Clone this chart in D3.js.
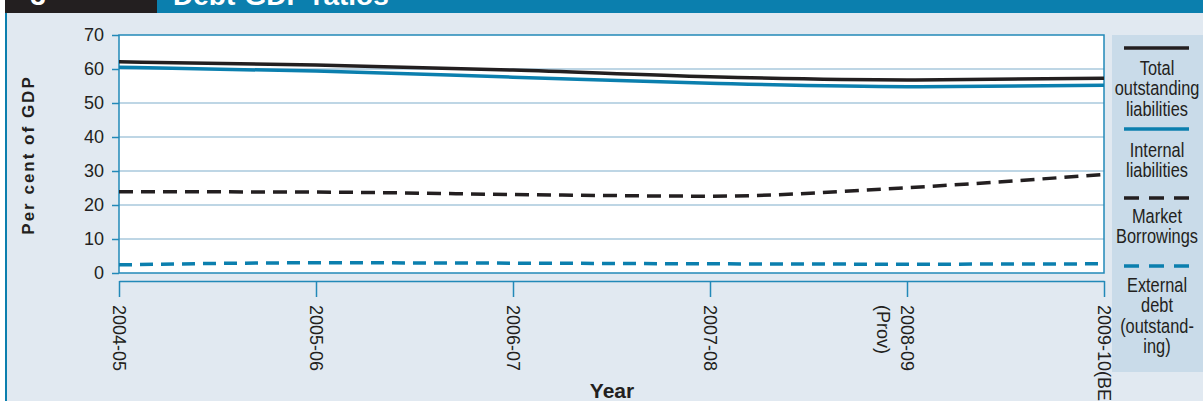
<!DOCTYPE html>
<html>
<head>
<meta charset="utf-8">
<script src="https://cdn.jsdelivr.net/npm/d3@7"></script>
<style>
  html, body { margin: 0; padding: 0; background: #ffffff; }
  svg { display: block; }
  .sans { font-family: "Liberation Sans", Arial, sans-serif; }
</style>
</head>
<body>
<svg id="chart" width="1203" height="401"></svg>
<script>
// Fiscal years on the horizontal axis
const years = ["2004-05", "2005-06", "2006-07", "2007-08", "2008-09", "2009-10(BE)"];
const yearNotes = ["", "", "", "", "(Prov)", ""];

// Ratios, per cent of GDP
const totalLiabilities = [62.1, 61.2, 59.7, 57.7, 56.8, 57.3];
const internalLiabilities = [60.5, 59.4, 57.6, 55.8, 54.8, 55.2];
const marketBorrowings = [23.9, 23.8, 23.1, 22.6, 25.1, 29.0];
const externalDebt = [2.4, 3.0, 2.9, 2.7, 2.6, 2.7];

const yTicks = [0, 10, 20, 30, 40, 50, 60, 70];

const legendLabels = [
  ["Total", "outstanding", "liabilities"],
  ["Internal", "liabilities"],
  ["Market", "Borrowings"],
  ["External", "debt", "(outstand-", "ing)"]
];

const BLUE = "#0b7fae";
const INK = "#231f20";
const PANEL = "#e1e9f1";
const GRID = "#a9c9dd";
const FRAME = "#2289b8";

const svg = d3.select("#chart");

// page panel and header band
svg.append("rect").attr("x", 7).attr("y", 0).attr("width", 1196).attr("height", 401).attr("fill", PANEL);
svg.append("rect").attr("x", 5).attr("y", 0).attr("width", 2).attr("height", 401).attr("fill", BLUE);
svg.append("rect").attr("x", 5).attr("y", 0).attr("width", 152).attr("height", 13).attr("fill", INK);
svg.append("rect").attr("x", 157).attr("y", 0).attr("width", 1046).attr("height", 13).attr("fill", BLUE);
svg.append("text").attr("class", "sans").attr("x", 38).attr("y", 5)
  .attr("text-anchor", "middle").attr("font-weight", "bold").attr("font-size", 28)
  .attr("fill", "#ffffff").text("3");
svg.append("text").attr("class", "sans").attr("x", 173).attr("y", 5)
  .attr("font-weight", "bold").attr("font-size", 28)
  .attr("fill", "#ffffff").text("Debt-GDP ratios");

// plot geometry
const plotLeft = 119, plotRight = 1104, plotTop = 35, plotBottom = 273;

const x = d3.scalePoint().domain(years).range([plotLeft, plotRight]);
const y = d3.scaleLinear().domain([0, 70]).range([plotBottom, plotTop]);

svg.append("rect").attr("x", plotLeft).attr("y", plotTop)
  .attr("width", plotRight - plotLeft).attr("height", plotBottom - plotTop).attr("fill", "#ffffff");

// horizontal grid
svg.append("g").selectAll("line").data(yTicks.filter(v => v > 0 && v < 70)).join("line")
  .attr("x1", plotLeft).attr("x2", plotRight)
  .attr("y1", d => y(d)).attr("y2", d => y(d))
  .attr("stroke", GRID).attr("stroke-width", 1.5);

// plot frame
svg.append("rect").attr("x", plotLeft).attr("y", plotTop)
  .attr("width", plotRight - plotLeft).attr("height", plotBottom - plotTop)
  .attr("fill", "none").attr("stroke", FRAME).attr("stroke-width", 1.5);

// y axis
const yAxis = d3.axisLeft(y).tickValues(yTicks).tickSizeInner(7).tickSizeOuter(0).tickPadding(8);
const gy = svg.append("g").attr("transform", `translate(${plotLeft},0)`).call(yAxis);
gy.select(".domain").remove();
gy.selectAll(".tick line").attr("stroke", FRAME).attr("stroke-width", 1.5);
gy.selectAll(".tick text").attr("class", "sans").attr("font-size", 18).attr("fill", INK);

// x axis, set a little below the plot
const xAxisY = 281;
const xAxis = d3.axisBottom(x).tickSizeInner(16).tickSizeOuter(0).tickFormat("");
const gx = svg.append("g").attr("transform", `translate(0,${xAxisY})`).call(xAxis);
gx.select(".domain").attr("stroke", FRAME).attr("stroke-width", 1.5);
gx.selectAll(".tick line").attr("stroke", FRAME).attr("stroke-width", 1.5);

const xLabels = svg.append("g");
years.forEach((yr, i) => {
  const t = xLabels.append("text").attr("class", "sans")
    .attr("font-size", 18).attr("fill", INK)
    .attr("transform", `translate(${x(yr)},305) rotate(90)`);
  t.append("tspan").attr("x", 0).attr("dy", "0.35em").text(yr);
  if (yearNotes[i]) {
    t.append("tspan").attr("x", 0).attr("dy", "1.3em").text(yearNotes[i]);
  }
});

// axis titles
svg.append("text").attr("class", "sans").attr("font-weight", "bold").attr("font-size", 21)
  .attr("text-anchor", "middle").attr("x", 612).attr("y", 398).attr("fill", INK).text("Year");
svg.append("text").attr("class", "sans").attr("font-weight", "bold").attr("font-size", 17)
  .attr("letter-spacing", 2)
  .attr("text-anchor", "middle").attr("fill", INK)
  .attr("transform", "translate(34,155) rotate(-90)").text("Per cent of GDP");

// series
const series = [
  { values: totalLiabilities, color: INK, dash: null },
  { values: internalLiabilities, color: BLUE, dash: null },
  { values: marketBorrowings, color: INK, dash: "14,8" },
  { values: externalDebt, color: BLUE, dash: "13,8" }
];

const line = d3.line()
  .x((d, i) => x(years[i]))
  .y(d => y(d))
  .curve(d3.curveMonotoneX);

svg.append("g").selectAll("path").data(series).join("path")
  .attr("d", d => line(d.values))
  .attr("fill", "none")
  .attr("stroke", d => d.color)
  .attr("stroke-width", 3.5)
  .attr("stroke-dasharray", d => d.dash);

// legend
const lg = svg.append("g");
lg.append("rect").attr("x", 1112).attr("y", 35).attr("width", 100).attr("height", 337).attr("fill", "#c9dbe9");
const legendLineY = [48, 129, 198, 266];
const legendTextY = [75, 157, 223, 292];
const lgCx = 1157;
series.forEach((s, i) => {
  lg.append("line")
    .attr("x1", 1124).attr("x2", 1189)
    .attr("y1", legendLineY[i]).attr("y2", legendLineY[i])
    .attr("stroke", s.color).attr("stroke-width", 3.5)
    .attr("stroke-dasharray", s.dash ? "15,10" : null);
  // condensed caption: regular face squeezed horizontally
  const t = lg.append("text").attr("class", "sans").attr("font-size", 19.5)
    .attr("text-anchor", "middle").attr("fill", INK)
    .attr("transform", `translate(${lgCx},0) scale(0.84,1)`);
  legendLabels[i].forEach((w, j) => {
    t.append("tspan").attr("x", 0).attr("y", legendTextY[i] + j * 20.5).text(w);
  });
});
</script>
</body>
</html>
